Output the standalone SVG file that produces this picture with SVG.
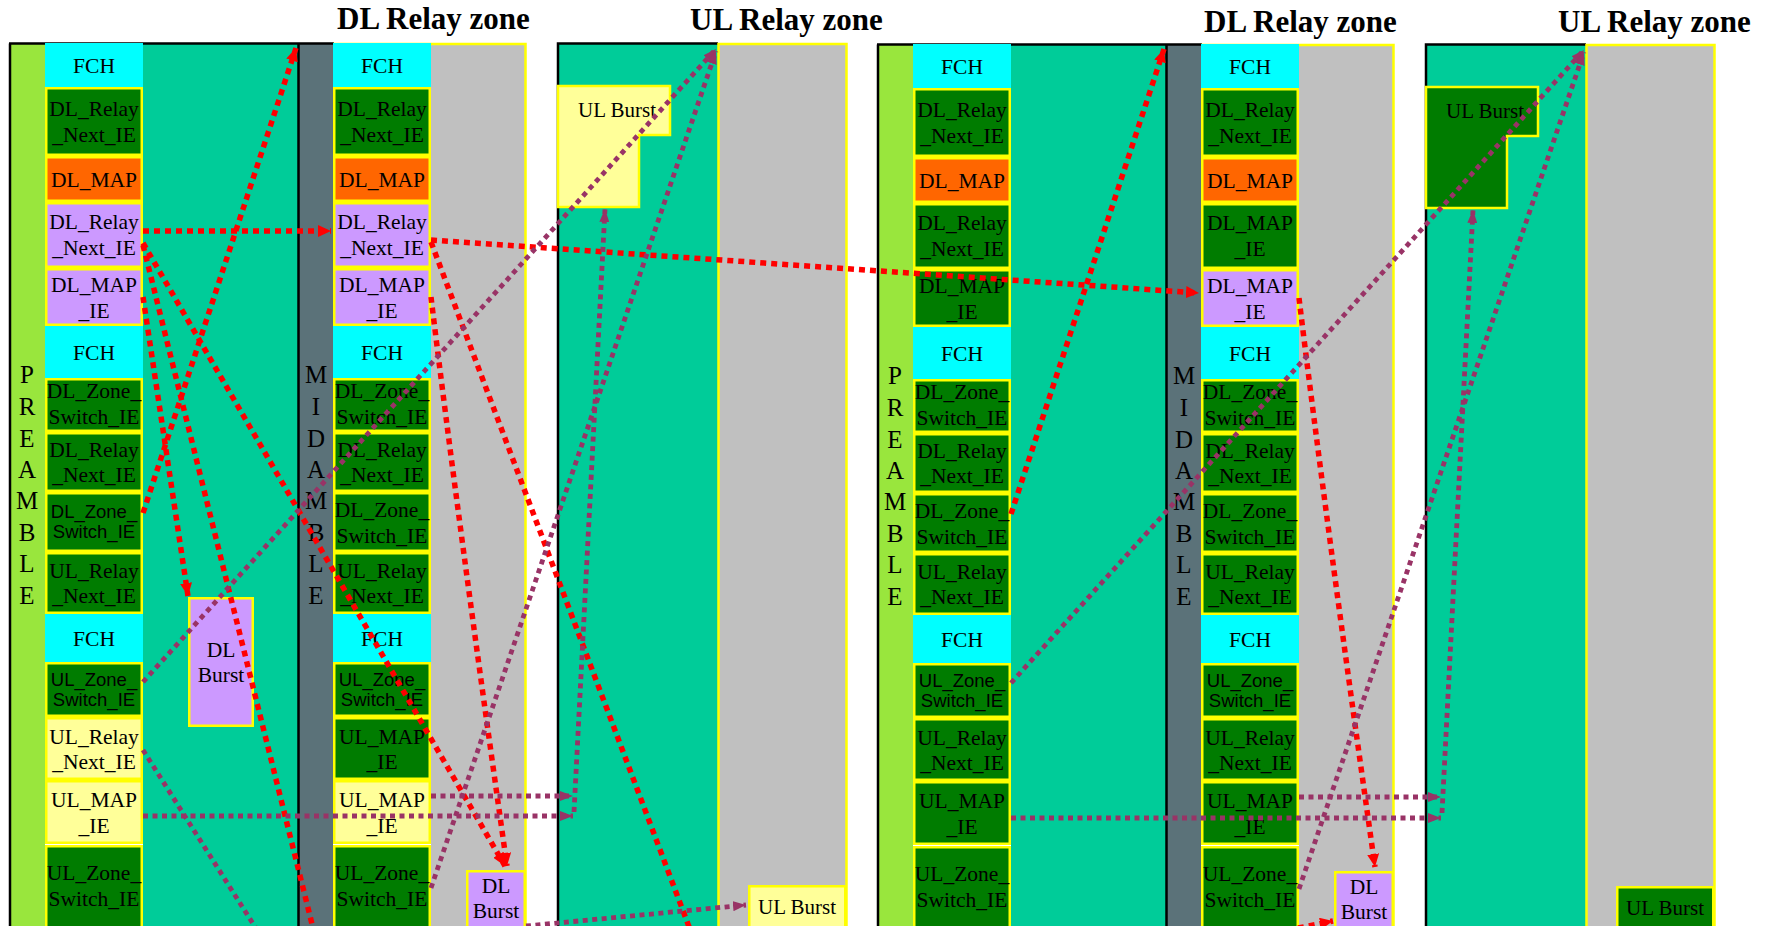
<svg xmlns="http://www.w3.org/2000/svg" width="1766" height="926" viewBox="0 0 1766 926">
<style>
.c{fill:#00FFFF}
.g{fill:#007C00;stroke:#FFFF00;stroke-width:2.5}
.o{fill:#FF6600;stroke:#FFFF00;stroke-width:2.5}
.p{fill:#CC99FF;stroke:#FFFF00;stroke-width:2.5}
.y{fill:#FFFF99;stroke:#FFFF00;stroke-width:2.5}
.t{font-family:"Liberation Serif","Times New Roman",serif;font-size:21.5px;text-anchor:middle;fill:#000}
.s{font-family:"Liberation Sans",Arial,sans-serif;font-size:18.5px;text-anchor:middle;fill:#000}
.h{font-family:"Liberation Serif","Times New Roman",serif;font-weight:bold;font-size:31px;fill:#000}
.v{font-family:"Liberation Serif","Times New Roman",serif;font-size:25px;text-anchor:middle;fill:#000}
.r{fill:none;stroke:#FF0000;stroke-width:5.5;stroke-dasharray:6 5}
.m{fill:none;stroke:#993366;stroke-width:4.8;stroke-dasharray:5 4.5}
</style>
<defs>
<marker id="ar" markerUnits="userSpaceOnUse" markerWidth="14" markerHeight="12" refX="13" refY="6" orient="auto"><path d="M0,0 L13,6 L0,12 Z" fill="#FF0000"/></marker>
<marker id="am" markerUnits="userSpaceOnUse" markerWidth="14" markerHeight="10" refX="13" refY="5" orient="auto"><path d="M0,0 L13,5 L0,10 Z" fill="#993366"/></marker>
<g id="frame">
<rect x="10" y="43" width="35" height="890" fill="#99E63D"/>
<rect x="143" y="43" width="155" height="890" fill="#00CC99"/>
<rect x="298" y="43" width="35" height="890" fill="#5B7279"/>
<rect x="431" y="43" width="95" height="890" fill="#C0C0C0"/>
<path d="M10,43.5 V930 M9,43.5 H334 M298.5,43 V930" stroke="#000" stroke-width="2.5" fill="none"/>
<path d="M333,44 H525.5 V930" stroke="#FFFF00" stroke-width="2.5" fill="none"/>
<rect x="557" y="43" width="161" height="890" fill="#00CC99"/>
<rect x="718" y="43" width="129" height="890" fill="#C0C0C0"/>
<path d="M558,930 V43.5 H718" stroke="#000" stroke-width="2.5" fill="none"/>
<path d="M718.5,930 V44 H846.5 V930" stroke="#FFFF00" stroke-width="2.5" fill="none"/>
</g>
</defs>

<g id="titles">
<text class="h" x="337" y="29">DL Relay zone</text>
<text class="h" x="690" y="30">UL Relay zone</text>
<text class="h" x="1204" y="32">DL Relay zone</text>
<text class="h" x="1558" y="32">UL Relay zone</text>
</g>

<!-- LEFT HALF -->
<use href="#frame"/>
<g id="L-preamble"><text class="v" x="27"><tspan x="27" y="383">P</tspan><tspan x="27" y="415">R</tspan><tspan x="27" y="447">E</tspan><tspan x="27" y="478">A</tspan><tspan x="27" y="509">M</tspan><tspan x="27" y="541">B</tspan><tspan x="27" y="572">L</tspan><tspan x="27" y="604">E</tspan></text></g>
<g id="L-midamble"><text class="v" x="316"><tspan x="316" y="383">M</tspan><tspan x="316" y="415">I</tspan><tspan x="316" y="447">D</tspan><tspan x="316" y="478">A</tspan><tspan x="316" y="509">M</tspan><tspan x="316" y="541">B</tspan><tspan x="316" y="572">L</tspan><tspan x="316" y="604">E</tspan></text></g>

<g id="L1-r0"><rect class="c" x="45" y="43" width="98" height="44"/><text class="t" x="94" y="72.5">FCH</text></g>
<g id="L1-r1"><rect class="g" x="46.25" y="88.25" width="95.5" height="66.5"/><text class="t" x="94" y="116">DL_Relay</text><text class="t" x="94" y="142">_Next_IE</text></g>
<g id="L1-r2"><rect class="o" x="46.25" y="157.25" width="95.5" height="43.5"/><text class="t" x="94" y="186.5">DL_MAP</text></g>
<g id="L1-r3"><rect class="p" x="46.25" y="203.25" width="95.5" height="63.5"/><text class="t" x="94" y="229">DL_Relay</text><text class="t" x="94" y="255">_Next_IE</text></g>
<g id="L1-r4"><rect class="p" x="46.25" y="269.25" width="95.5" height="55.5"/><text class="t" x="94" y="292">DL_MAP</text><text class="t" x="94" y="318">_IE</text></g>
<g id="L1-r5"><rect class="c" x="45" y="326" width="98" height="52"/><text class="t" x="94" y="359.5">FCH</text></g>
<g id="L1-r6"><rect class="g" x="46.25" y="379.25" width="95.5" height="51.5"/><text class="t" x="94" y="398">DL_Zone_</text><text class="t" x="94" y="424">Switch_IE</text></g>
<g id="L1-r7"><rect class="g" x="46.25" y="433.25" width="95.5" height="57.5"/><text class="t" x="94" y="457">DL_Relay</text><text class="t" x="94" y="482">_Next_IE</text></g>
<g id="L1-r8"><rect class="g" x="46.25" y="493.25" width="95.5" height="57.5"/><text class="s" x="94" y="518">DL_Zone_</text><text class="s" x="94" y="538">Switch_IE</text></g>
<g id="L1-r9"><rect class="g" x="46.25" y="553.25" width="95.5" height="59.5"/><text class="t" x="94" y="578">UL_Relay</text><text class="t" x="94" y="603">_Next_IE</text></g>
<g id="L1-r10"><rect class="c" x="45" y="614" width="98" height="48"/><text class="t" x="94" y="645.5">FCH</text></g>
<g id="L1-r11"><rect class="g" x="46.25" y="663.25" width="95.5" height="52.5"/><text class="s" x="94" y="685.5">UL_Zone_</text><text class="s" x="94" y="705.5">Switch_IE</text></g>
<g id="L1-r12"><rect class="y" x="46.25" y="718.25" width="95.5" height="60.5"/><text class="t" x="94" y="744">UL_Relay</text><text class="t" x="94" y="769">_Next_IE</text></g>
<g id="L1-r13"><rect class="y" x="46.25" y="781.25" width="95.5" height="61.5"/><text class="t" x="94" y="807">UL_MAP</text><text class="t" x="94" y="833">_IE</text></g>
<g id="L1-r14"><rect class="g" x="46.25" y="846.25" width="95.5" height="84"/><text class="t" x="94" y="880">UL_Zone_</text><text class="t" x="94" y="906">Switch_IE</text></g>
<g id="L1-dlburst"><rect class="p" x="189.25" y="598.25" width="63.5" height="127.5"/><text class="t" x="221" y="657">DL</text><text class="t" x="221" y="682">Burst</text></g>

<g id="L2-r0"><rect class="c" x="333" y="43" width="98" height="44"/><text class="t" x="382" y="72.5">FCH</text></g>
<g id="L2-r1"><rect class="g" x="334.25" y="88.25" width="95.5" height="66.5"/><text class="t" x="382" y="116">DL_Relay</text><text class="t" x="382" y="142">_Next_IE</text></g>
<g id="L2-r2"><rect class="o" x="334.25" y="157.25" width="95.5" height="43.5"/><text class="t" x="382" y="186.5">DL_MAP</text></g>
<g id="L2-r3"><rect class="p" x="334.25" y="203.25" width="95.5" height="63.5"/><text class="t" x="382" y="229">DL_Relay</text><text class="t" x="382" y="255">_Next_IE</text></g>
<g id="L2-r4"><rect class="p" x="334.25" y="269.25" width="95.5" height="55.5"/><text class="t" x="382" y="292">DL_MAP</text><text class="t" x="382" y="318">_IE</text></g>
<g id="L2-r5"><rect class="c" x="333" y="326" width="98" height="52"/><text class="t" x="382" y="359.5">FCH</text></g>
<g id="L2-r6"><rect class="g" x="334.25" y="379.25" width="95.5" height="51.5"/><text class="t" x="382" y="398">DL_Zone_</text><text class="t" x="382" y="424">Switch_IE</text></g>
<g id="L2-r7"><rect class="g" x="334.25" y="433.25" width="95.5" height="57.5"/><text class="t" x="382" y="457">DL_Relay</text><text class="t" x="382" y="482">_Next_IE</text></g>
<g id="L2-r8"><rect class="g" x="334.25" y="493.25" width="95.5" height="57.5"/><text class="t" x="382" y="517">DL_Zone_</text><text class="t" x="382" y="543">Switch_IE</text></g>
<g id="L2-r9"><rect class="g" x="334.25" y="553.25" width="95.5" height="59.5"/><text class="t" x="382" y="578">UL_Relay</text><text class="t" x="382" y="603">_Next_IE</text></g>
<g id="L2-r10"><rect class="c" x="333" y="614" width="98" height="48"/><text class="t" x="382" y="645.5">FCH</text></g>
<g id="L2-r11"><rect class="g" x="334.25" y="663.25" width="95.5" height="52.5"/><text class="s" x="382" y="685.5">UL_Zone_</text><text class="s" x="382" y="705.5">Switch_IE</text></g>
<g id="L2-r12"><rect class="g" x="334.25" y="718.25" width="95.5" height="60.5"/><text class="t" x="382" y="744">UL_MAP</text><text class="t" x="382" y="769">_IE</text></g>
<g id="L2-r13"><rect class="y" x="334.25" y="781.25" width="95.5" height="61.5"/><text class="t" x="382" y="807">UL_MAP</text><text class="t" x="382" y="833">_IE</text></g>
<g id="L2-r14"><rect class="g" x="334.25" y="846.25" width="95.5" height="84"/><text class="t" x="382" y="880">UL_Zone_</text><text class="t" x="382" y="906">Switch_IE</text></g>
<g id="L2-dlburst"><rect class="p" x="467.25" y="871.25" width="57.5" height="60"/><text class="t" x="496" y="893">DL</text><text class="t" x="496" y="918">Burst</text></g>

<g id="L-ulburst-top"><path class="y" d="M558,86 H670 V135 H639 V207 H558 Z"/><text class="t" x="617" y="117" style="font-size:21px">UL Burst</text></g>
<g id="L-ulburst-bottom"><rect class="y" x="749.25" y="886.25" width="96" height="44"/><text class="t" x="797" y="914" style="font-size:21px">UL Burst</text></g>

<!-- RIGHT HALF -->
<g transform="translate(868,1)">
<use href="#frame"/>
<g id="R-preamble"><text class="v" x="27"><tspan x="27" y="383">P</tspan><tspan x="27" y="415">R</tspan><tspan x="27" y="447">E</tspan><tspan x="27" y="478">A</tspan><tspan x="27" y="509">M</tspan><tspan x="27" y="541">B</tspan><tspan x="27" y="572">L</tspan><tspan x="27" y="604">E</tspan></text></g>
<g id="R-midamble"><text class="v" x="316"><tspan x="316" y="383">M</tspan><tspan x="316" y="415">I</tspan><tspan x="316" y="447">D</tspan><tspan x="316" y="478">A</tspan><tspan x="316" y="509">M</tspan><tspan x="316" y="541">B</tspan><tspan x="316" y="572">L</tspan><tspan x="316" y="604">E</tspan></text></g>

<g id="R1-r0"><rect class="c" x="45" y="43" width="98" height="44"/><text class="t" x="94" y="72.5">FCH</text></g>
<g id="R1-r1"><rect class="g" x="46.25" y="88.25" width="95.5" height="66.5"/><text class="t" x="94" y="116">DL_Relay</text><text class="t" x="94" y="142">_Next_IE</text></g>
<g id="R1-r2"><rect class="o" x="46.25" y="157.25" width="95.5" height="43.5"/><text class="t" x="94" y="186.5">DL_MAP</text></g>
<g id="R1-r3"><rect class="g" x="46.25" y="203.25" width="95.5" height="63.5"/><text class="t" x="94" y="229">DL_Relay</text><text class="t" x="94" y="255">_Next_IE</text></g>
<g id="R1-r4"><rect class="g" x="46.25" y="269.25" width="95.5" height="55.5"/><text class="t" x="94" y="292">DL_MAP</text><text class="t" x="94" y="318">_IE</text></g>
<g id="R1-r5"><rect class="c" x="45" y="326" width="98" height="52"/><text class="t" x="94" y="359.5">FCH</text></g>
<g id="R1-r6"><rect class="g" x="46.25" y="379.25" width="95.5" height="51.5"/><text class="t" x="94" y="398">DL_Zone_</text><text class="t" x="94" y="424">Switch_IE</text></g>
<g id="R1-r7"><rect class="g" x="46.25" y="433.25" width="95.5" height="57.5"/><text class="t" x="94" y="457">DL_Relay</text><text class="t" x="94" y="482">_Next_IE</text></g>
<g id="R1-r8"><rect class="g" x="46.25" y="493.25" width="95.5" height="57.5"/><text class="t" x="94" y="517">DL_Zone_</text><text class="t" x="94" y="543">Switch_IE</text></g>
<g id="R1-r9"><rect class="g" x="46.25" y="553.25" width="95.5" height="59.5"/><text class="t" x="94" y="578">UL_Relay</text><text class="t" x="94" y="603">_Next_IE</text></g>
<g id="R1-r10"><rect class="c" x="45" y="614" width="98" height="48"/><text class="t" x="94" y="645.5">FCH</text></g>
<g id="R1-r11"><rect class="g" x="46.25" y="663.25" width="95.5" height="52.5"/><text class="s" x="94" y="685.5">UL_Zone_</text><text class="s" x="94" y="705.5">Switch_IE</text></g>
<g id="R1-r12"><rect class="g" x="46.25" y="718.25" width="95.5" height="60.5"/><text class="t" x="94" y="744">UL_Relay</text><text class="t" x="94" y="769">_Next_IE</text></g>
<g id="R1-r13"><rect class="g" x="46.25" y="781.25" width="95.5" height="61.5"/><text class="t" x="94" y="807">UL_MAP</text><text class="t" x="94" y="833">_IE</text></g>
<g id="R1-r14"><rect class="g" x="46.25" y="846.25" width="95.5" height="84"/><text class="t" x="94" y="880">UL_Zone_</text><text class="t" x="94" y="906">Switch_IE</text></g>

<g id="R2-r0"><rect class="c" x="333" y="43" width="98" height="44"/><text class="t" x="382" y="72.5">FCH</text></g>
<g id="R2-r1"><rect class="g" x="334.25" y="88.25" width="95.5" height="66.5"/><text class="t" x="382" y="116">DL_Relay</text><text class="t" x="382" y="142">_Next_IE</text></g>
<g id="R2-r2"><rect class="o" x="334.25" y="157.25" width="95.5" height="43.5"/><text class="t" x="382" y="186.5">DL_MAP</text></g>
<g id="R2-r3"><rect class="g" x="334.25" y="203.25" width="95.5" height="63.5"/><text class="t" x="382" y="229">DL_MAP</text><text class="t" x="382" y="255">_IE</text></g>
<g id="R2-r4"><rect class="p" x="334.25" y="269.25" width="95.5" height="55.5"/><text class="t" x="382" y="292">DL_MAP</text><text class="t" x="382" y="318">_IE</text></g>
<g id="R2-r5"><rect class="c" x="333" y="326" width="98" height="52"/><text class="t" x="382" y="359.5">FCH</text></g>
<g id="R2-r6"><rect class="g" x="334.25" y="379.25" width="95.5" height="51.5"/><text class="t" x="382" y="398">DL_Zone_</text><text class="t" x="382" y="424">Switch_IE</text></g>
<g id="R2-r7"><rect class="g" x="334.25" y="433.25" width="95.5" height="57.5"/><text class="t" x="382" y="457">DL_Relay</text><text class="t" x="382" y="482">_Next_IE</text></g>
<g id="R2-r8"><rect class="g" x="334.25" y="493.25" width="95.5" height="57.5"/><text class="t" x="382" y="517">DL_Zone_</text><text class="t" x="382" y="543">Switch_IE</text></g>
<g id="R2-r9"><rect class="g" x="334.25" y="553.25" width="95.5" height="59.5"/><text class="t" x="382" y="578">UL_Relay</text><text class="t" x="382" y="603">_Next_IE</text></g>
<g id="R2-r10"><rect class="c" x="333" y="614" width="98" height="48"/><text class="t" x="382" y="645.5">FCH</text></g>
<g id="R2-r11"><rect class="g" x="334.25" y="663.25" width="95.5" height="52.5"/><text class="s" x="382" y="685.5">UL_Zone_</text><text class="s" x="382" y="705.5">Switch_IE</text></g>
<g id="R2-r12"><rect class="g" x="334.25" y="718.25" width="95.5" height="60.5"/><text class="t" x="382" y="744">UL_Relay</text><text class="t" x="382" y="769">_Next_IE</text></g>
<g id="R2-r13"><rect class="g" x="334.25" y="781.25" width="95.5" height="61.5"/><text class="t" x="382" y="807">UL_MAP</text><text class="t" x="382" y="833">_IE</text></g>
<g id="R2-r14"><rect class="g" x="334.25" y="846.25" width="95.5" height="84"/><text class="t" x="382" y="880">UL_Zone_</text><text class="t" x="382" y="906">Switch_IE</text></g>
<g id="R2-dlburst"><rect class="p" x="467.25" y="871.25" width="57.5" height="60"/><text class="t" x="496" y="893">DL</text><text class="t" x="496" y="918">Burst</text></g>

<g id="R-ulburst-top"><path class="g" d="M558,86 H670 V135 H639 V207 H558 Z"/><text class="t" x="617" y="117" style="font-size:21px">UL Burst</text></g>
<g id="R-ulburst-bottom"><rect class="g" x="749.25" y="886.25" width="96" height="44"/><text class="t" x="797" y="914" style="font-size:21px">UL Burst</text></g>
</g>

<g id="connectors">
<path class="r" d="M143,231 L331,231" marker-end="url(#ar)"/>
<path class="r" d="M143,513 L296,48" marker-end="url(#ar)"/>
<path class="r" d="M143,245 L314,932"/>
<path class="r" d="M143,243 L505,866" marker-end="url(#ar)"/>
<path class="r" d="M143,297 L188,596" marker-end="url(#ar)"/>
<path class="r" d="M431,297 Q458,520 507,866" marker-end="url(#ar)"/>
<path class="r" d="M431,242 L691,932"/>
<path class="r" d="M431,240 L1199,293" marker-end="url(#ar)"/>
<path class="r" d="M1011,514 L1164,49" marker-end="url(#ar)"/>
<path class="r" d="M1299,298 Q1326,521 1375,867" marker-end="url(#ar)"/>
<path class="r" d="M1298,928 L1333,921" marker-end="url(#ar)"/>

<path class="m" d="M143,682 L716,49" marker-end="url(#am)"/>
<path class="m" d="M143,750 L257,930"/>
<path class="m" d="M143,816 L573,816" marker-end="url(#am)"/>
<path class="m" d="M431,796 L573,796" marker-end="url(#am)"/>
<path class="m" d="M431,888 L716,51" marker-end="url(#am)"/>
<path class="m" d="M574,812 Q590,500 605,209" marker-end="url(#am)"/>
<path class="m" d="M526,926 L746,905" marker-end="url(#am)"/>
<path class="m" d="M1011,683 L1584,50" marker-end="url(#am)"/>
<path class="m" d="M1011,818 L1441,818" marker-end="url(#am)"/>
<path class="m" d="M1299,797 L1441,797" marker-end="url(#am)"/>
<path class="m" d="M1299,889 L1584,52" marker-end="url(#am)"/>
<path class="m" d="M1442,813 Q1458,501 1473,210" marker-end="url(#am)"/>
</g>
</svg>
